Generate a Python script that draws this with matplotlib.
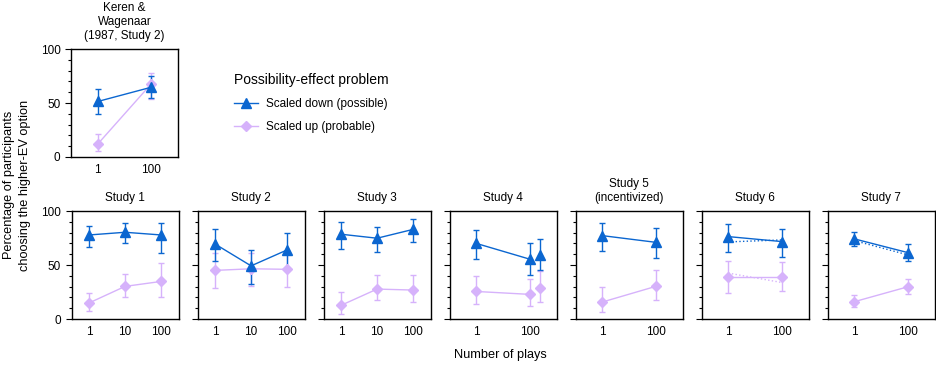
import matplotlib
matplotlib.use("Agg")
import matplotlib.pyplot as plt
from matplotlib.lines import Line2D
from matplotlib.ticker import MultipleLocator, NullLocator

plt.rcParams["font.family"] = ["Liberation Sans", "DejaVu Sans"]
plt.rcParams["font.size"] = 8.5

BLUE = "#0b66d0"
PINK = "#d6b2fb"

# Keren & Wagenaar (1987, Study 2)
kw_plays = [1, 100]
kw_down = [51.4, 64.6]
kw_down_lo = [39.7, 55.0]
kw_down_hi = [63.0, 75.0]
kw_up = [12.0, 67.7]
kw_up_lo = [5.2, 53.5]
kw_up_hi = [21.2, 77.5]

study_titles = ["Study 1", "Study 2", "Study 3", "Study 4",
                "Study 5\n(incentivized)", "Study 6", "Study 7"]
study_plays = [[1, 10, 100], [1, 10, 100], [1, 10, 100], [1, 100, 250],
               [1, 100], [1, 100], [1, 100]]
tick_plays = [[1, 10, 100], [1, 10, 100], [1, 10, 100], [1, 100],
              [1, 100], [1, 100], [1, 100]]

down_mean = [[77.8, 80.3, 77.8], [69.5, 49.2, 64.0], [78.5, 74.8, 83.0],
             [70.0, 55.4, 59.4], [77.2, 71.0], [76.3, 71.7], [74.2, 61.5]]
down_lo = [[67.0, 70.5, 61.2], [54.0, 32.0, 47.0], [64.6, 62.5, 71.7],
           [55.7, 41.0, 45.0], [63.0, 56.9], [61.8, 57.8], [67.7, 54.0]]
down_hi = [[86.0, 88.6, 88.9], [83.0, 64.3, 79.4], [89.5, 85.5, 92.3],
           [82.0, 70.0, 73.8], [88.6, 84.0], [87.7, 83.0], [80.3, 69.2]]

up_mean = [[14.8, 30.2, 34.8], [45.0, 46.5, 46.0], [12.6, 27.7, 26.8],
           [25.5, 22.8, 29.0], [15.7, 30.2], [38.5, 38.5], [16.0, 29.8]]
up_lo = [[7.7, 20.3, 20.3], [29.0, 30.8, 30.0], [4.6, 17.2, 16.0],
         [14.0, 12.3, 16.0], [6.5, 17.8], [24.0, 26.0], [11.0, 23.0]]
up_hi = [[23.7, 41.5, 51.7], [61.0, 61.0, 61.0], [25.0, 40.6, 40.6],
         [39.4, 37.2, 44.3], [29.5, 45.5], [53.8, 53.0], [22.0, 37.0]]

# secondary (dotted) estimates, Studies 6 and 7
dotted_down = {5: [71.4, 73.2], 6: [72.6, 59.4]}
dotted_up = {5: [42.5, 33.8]}

W, H = 936, 366
fig = plt.figure(figsize=(W / 100, H / 100), dpi=100)


def add_ax(left, top, width=107, height=108):
    return fig.add_axes([left / W, 1 - (top + height) / H, width / W, height / H])


def style(ax, plays, ticks, show_y):
    ax.set_xscale("log")
    if len(plays) == 3 and plays[1] == 10:
        ax.set_xlim(0.33, 300)
    else:
        ax.set_xlim(0.1, 1000)
    ax.set_ylim(0, 100)
    ax.xaxis.set_minor_locator(NullLocator())
    ax.set_xticks(ticks)
    ax.set_xticklabels([str(t) for t in ticks])
    ax.tick_params(axis="x", length=0, pad=5)
    ax.yaxis.set_major_locator(MultipleLocator(50))
    ax.yaxis.set_minor_locator(MultipleLocator(10))
    ax.tick_params(axis="y", which="major", direction="out", length=4, width=0.8)
    ax.tick_params(axis="y", which="minor", direction="out", length=2.5, width=0.8)
    if not show_y:
        ax.set_yticklabels([])
    for s in ax.spines.values():
        s.set_linewidth(1.0)


def draw(ax, x, m, lo, hi, color, marker, ms, alpha=1.0):
    yerr = [[a - b for a, b in zip(m, lo)], [b - a for a, b in zip(m, hi)]]
    ax.errorbar(x, m, yerr=yerr, color=color, marker=marker, ms=ms,
                lw=1.0, elinewidth=1.0, capsize=2, capthick=1.0,
                alpha=alpha, zorder=3)


# top panel
ax0 = add_ax(71, 49)
style(ax0, kw_plays, kw_plays, True)
draw(ax0, kw_plays, kw_up, kw_up_lo, kw_up_hi, PINK, "D", 5.5)
draw(ax0, kw_plays, kw_down, kw_down_lo, kw_down_hi, BLUE, "^", 7)
ax0.set_title("Keren &\nWagenaar\n(1987, Study 2)", fontsize=8.5, pad=7,
              linespacing=1.25)

for i in range(7):
    ax = add_ax(71.5 + 126 * i, 211)
    x = study_plays[i]
    style(ax, x, tick_plays[i], i == 0)
    if i == 3:
        # third point is plotted separately, not connected
        draw(ax, x[:2], up_mean[i][:2], up_lo[i][:2], up_hi[i][:2], PINK, "D", 5.5)
        draw(ax, x[2:], up_mean[i][2:], up_lo[i][2:], up_hi[i][2:], PINK, "D", 5.5)
        draw(ax, x[:2], down_mean[i][:2], down_lo[i][:2], down_hi[i][:2], BLUE, "^", 7)
        draw(ax, x[2:], down_mean[i][2:], down_lo[i][2:], down_hi[i][2:], BLUE, "^", 7)
    else:
        draw(ax, x, up_mean[i], up_lo[i], up_hi[i], PINK, "D", 5.5)
        draw(ax, x, down_mean[i], down_lo[i], down_hi[i], BLUE, "^", 7)
    if i in dotted_down:
        ax.plot(x, dotted_down[i], color=BLUE, ls=":", lw=1.0, zorder=2)
    if i in dotted_up:
        ax.plot(x, dotted_up[i], color=PINK, ls=":", lw=1.0, zorder=2)
    ax.set_title(study_titles[i], fontsize=8.5, pad=7, linespacing=1.25)

fig.text(17 / W, 1 - 185 / H,
         "Percentage of participants\nchoosing the higher-EV option",
         rotation=90, ha="center", va="center", fontsize=9.2, linespacing=1.4)
fig.text(500 / W, 1 - 355 / H, "Number of plays", ha="center", va="center",
         fontsize=9.2)

handles = [
    Line2D([], [], color=BLUE, marker="^", ms=7, lw=1.0),
    Line2D([], [], color=PINK, marker="D", ms=5.5, lw=1.0),
]
fig.legend(handles, ["Scaled down (possible)", "Scaled up (probable)"],
           title="Possibility-effect problem", title_fontsize=10, fontsize=8.5,
           loc="upper left", bbox_to_anchor=(228 / W, 1 - 67 / H),
           frameon=False, alignment="left", handlelength=2.0, borderpad=0,
           labelspacing=0.95, handletextpad=0.75)

fig.savefig("out.png", dpi=100)
